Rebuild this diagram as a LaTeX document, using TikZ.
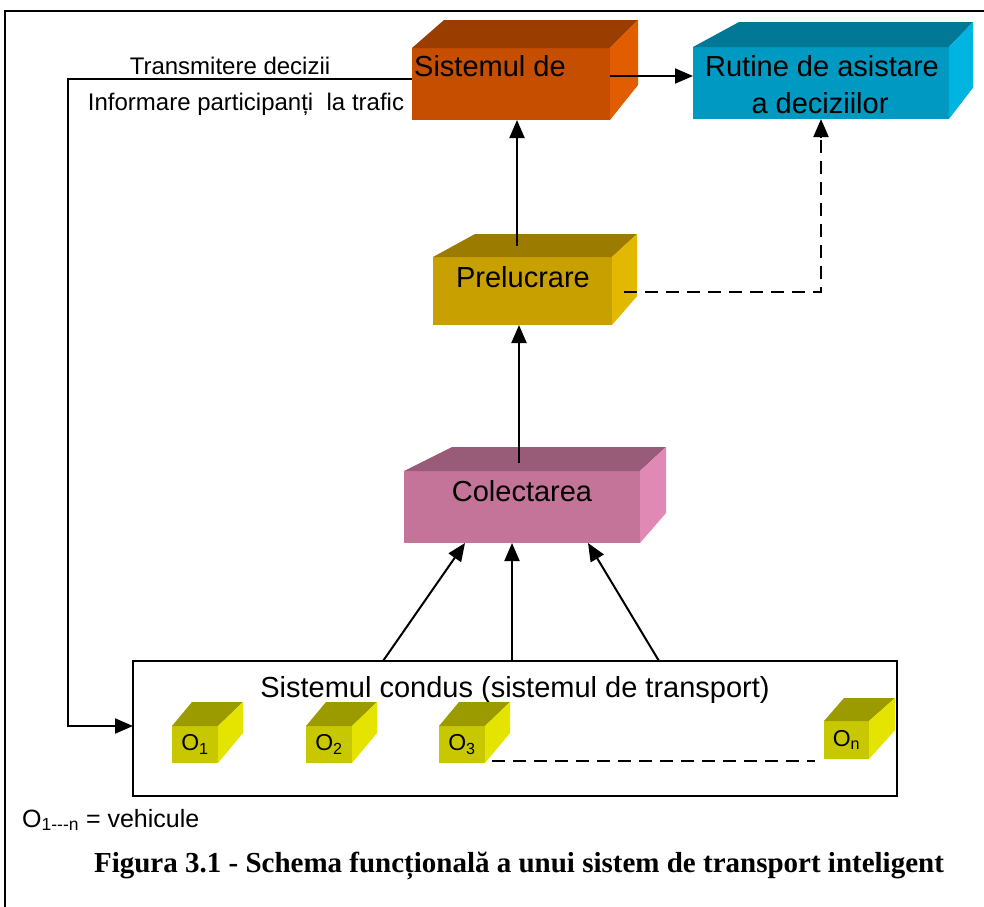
\documentclass[tikz,border=0pt]{standalone}
\usepackage{fontspec}
\setmainfont{Liberation Sans}
\newfontfamily\captionfont{Liberation Serif}
\usetikzlibrary{arrows.meta,calc}

% face colours: F = front, T = top, R = right side
\definecolor{orF}{RGB}{197,78,0}
\definecolor{orT}{RGB}{153,61,0}
\definecolor{orR}{RGB}{226,92,0}
\definecolor{blF}{RGB}{0,153,194}
\definecolor{blT}{RGB}{0,120,150}
\definecolor{blR}{RGB}{0,180,225}
\definecolor{goF}{RGB}{200,160,0}
\definecolor{goT}{RGB}{155,124,0}
\definecolor{goR}{RGB}{226,184,0}
\definecolor{piF}{RGB}{196,116,153}
\definecolor{piT}{RGB}{152,92,120}
\definecolor{piR}{RGB}{224,137,180}
\definecolor{yeF}{RGB}{200,200,0}
\definecolor{yeT}{RGB}{155,155,0}
\definecolor{yeR}{RGB}{228,228,0}

% top and right faces of a box whose front face is node #1
% #2 left depth, #3 right depth, #4 rise, #5 colour stem
\newcommand\cubefaces[5]{%
  \fill[#5T] (#1.north west) -- ++(#2,-#4) -- ($(#1.north east)+(#3,-#4)$)
    -- (#1.north east) -- cycle;
  \fill[#5R] (#1.north east) -- ++(#3,-#4) -- ($(#1.south east)+(#3,-1.25*#4)$)
    -- (#1.south east) -- cycle;}

\begin{document}
\begin{tikzpicture}[x=1pt,y=-1pt,
  face/.style={draw=none,inner sep=0pt,outer sep=0pt,anchor=north west},
  frame/.style={draw=black,line width=2pt,inner sep=0pt,outer sep=0pt,anchor=north west},
  tip/.style={-{Triangle[length=18pt,width=15pt]}},
  link/.style={line width=2pt,tip},
  plain/.style={line width=2pt},
  dashlink/.style={line width=2pt,dash pattern=on 13pt off 8pt},
  big/.style={font=\fontsize{29}{35}\selectfont,inner sep=0pt},
  small/.style={font=\fontsize{24}{28}\selectfont,inner sep=0pt},
  veh/.style={face,fill=yeF,font=\fontsize{23}{27}\selectfont}]

\useasboundingbox (0,0) rectangle (984,906);

% page frame
\draw[plain] (5,912) -- (5,11) -- (990,11);

% decision system
\node[face,fill=orF,minimum width=198pt,minimum height=72pt] (dec) at (412,48) {};
\cubefaces{dec}{32}{28}{28}{or}
\node[big,anchor=west] (decT) at (414,66) {Sistemul de};

% decision support routines
\node[face,fill=blF,minimum width=256pt,minimum height=72pt] (rut) at (693,47) {};
\cubefaces{rut}{46}{24}{25}{bl}
\node[big] (rutA) at (822,66) {Rutine de asistare};
\node[big] (rutB) at (820,103) {a deciziilor};

% processing
\node[face,fill=goF,minimum width=179pt,minimum height=68pt] (pre) at (433,257) {};
\cubefaces{pre}{42}{25}{23}{go}
\node[big] (preT) at (523,277) {Prelucrare};

% collection
\node[face,fill=piF,minimum width=236pt,minimum height=72pt] (col) at (404,471) {};
\cubefaces{col}{48}{26}{24}{pi}
\node[big] (colT) at (522,491) {Colectarea};

% controlled system with its vehicles
\node[frame,minimum width=764pt,minimum height=135pt] (sys) at (133,661) {};
\node[big] (sysT) at (515,690) {Sistemul condus (sistemul de transport)};

\node[veh,minimum width=46pt,minimum height=37pt] (o1) at (172,726) {O\textsubscript{1}};
\cubefaces{o1}{20}{25}{24}{ye}
\node[veh,minimum width=46pt,minimum height=37pt] (o2) at (306,726) {O\textsubscript{2}};
\cubefaces{o2}{20}{25}{24}{ye}
\node[veh,minimum width=46pt,minimum height=37pt] (o3) at (439,726) {O\textsubscript{3}};
\cubefaces{o3}{20}{25}{24}{ye}
\node[veh,minimum width=45pt,minimum height=38pt] (on) at (824,721) {O\textsubscript{n}};
\cubefaces{on}{20}{26}{23}{ye}

\draw[dashlink] ($(o3.south east)+(7,-2)$) -- ($(on.south west)+(-9,2)$);

% flow upwards
\draw[link] ($(sys.north west)+(250,0)$) -- ($(col.south west)+(61,0)$);
\draw[link] ($(sys.north west)+(379,0)$) -- ($(col.south west)+(108,0)$);
\draw[link] ($(sys.north west)+(526,0)$) -- ($(col.south west)+(184,0)$);

\coordinate (c1) at (519,463);
\draw[link] (c1) -- (c1 |- pre.south);
\coordinate (p1) at (517,246);
\draw[link] (p1) -- (p1 |- dec.south);

\coordinate (p2) at (624,292);
\coordinate (p3) at (821,292);
\draw[dashlink] (p2) -- (p3) -- ($(p3 |- rut.south)+(0,18)$);
\draw[link] ($(p3 |- rut.south)+(0,19)$) -- (p3 |- rut.south);

\draw[link] ($(dec.north east)+(0,28)$) -- ($(rut.north west)+(0,29)$);

% feedback to the controlled system
\coordinate (bend) at (68,79);
\draw[link] ($(dec.north west)+(0,31)$) -- (bend) |- ($(sys.north west)+(0,65)$);
\node[small] (trT) at (230,66) {Transmitere decizii};
\node[small] (infT) at (246,104) {Informare participanți\ \ la trafic};

% legend and caption
\node[font=\fontsize{25}{29}\selectfont,inner sep=0pt,anchor=west] (leg) at (22,820)
  {O\textsubscript{1{-}{-}{-}n} = vehicule};
\node[font=\captionfont\bfseries\fontsize{29}{34}\selectfont,inner sep=0pt] (cap) at (519,866)
  {Figura 3.1 - Schema funcțională a unui sistem de transport inteligent};
\end{tikzpicture}
\end{document}
